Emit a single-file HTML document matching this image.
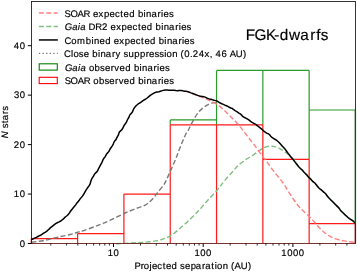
<!DOCTYPE html>
<html><head><meta charset="utf-8"><style>html,body{margin:0;padding:0;background:#fff;width:357px;height:272px;overflow:hidden}</style></head>
<body><svg width="357" height="272" viewBox="0 0 357 272" style="display:block;font-family:'Liberation Sans',sans-serif;filter:blur(0.35px)">
<rect width="357" height="272" fill="#fff"/>
<path d="M170.23 119.88H216.54M216.54 70.42H262.85M262.85 70.42H309.16M309.16 109.98H355.50M170.23 119.88V124.82M216.54 70.42V124.82M262.85 70.42V124.82M309.16 70.42V159.44M355.50 109.98V223.72" fill="none" stroke="#2a9a2a" stroke-width="1.2"/>
<path d="M31.30 238.56H77.61M77.61 233.61H123.92M123.92 194.05H170.23M170.23 124.82H216.54M216.54 124.82H262.85M262.85 159.44H309.16M309.16 223.72H355.50M31.30 238.56V243.50M77.61 233.61V243.50M123.92 194.05V243.50M170.23 124.82V243.50M216.54 124.82V243.50M262.85 124.82V243.50M309.16 159.44V243.50M355.50 223.72V243.50" fill="none" stroke="#ff1a1a" stroke-width="1.2"/>
<g fill="none" stroke-linejoin="round">
<path d="M31.50 242.30 C33.70 241.97 40.05 241.22 44.70 240.30 C49.35 239.38 55.13 237.77 59.40 236.80 C63.67 235.83 67.37 235.22 70.30 234.50 C73.23 233.78 74.75 233.15 77.00 232.50 C79.25 231.85 80.43 231.75 83.80 230.60 C87.17 229.45 92.83 227.30 97.20 225.60 C101.57 223.90 105.33 222.50 110.00 220.40 C114.67 218.30 120.57 215.10 125.20 213.00 C129.83 210.90 134.45 209.12 137.80 207.80 C141.15 206.48 143.27 206.13 145.30 205.10 C147.33 204.07 148.63 202.78 150.00 201.60 C151.37 200.42 152.25 199.47 153.50 198.00 C154.75 196.53 155.73 195.08 157.50 192.80 C159.27 190.52 162.27 187.20 164.10 184.30 C165.93 181.40 167.03 178.53 168.50 175.40 C169.97 172.27 171.57 168.57 172.90 165.50 C174.23 162.43 175.37 159.83 176.50 157.00 C177.63 154.17 178.18 152.25 179.70 148.50 C181.22 144.75 184.10 137.67 185.60 134.50 C187.10 131.33 187.60 131.53 188.70 129.50 C189.80 127.47 190.67 125.05 192.20 122.30 C193.73 119.55 196.03 115.45 197.90 113.00 C199.77 110.55 201.57 109.07 203.40 107.60 C205.23 106.13 207.32 104.98 208.90 104.20 C210.48 103.42 211.67 103.17 212.90 102.90 C214.13 102.63 215.73 102.65 216.30 102.60" stroke="#7a7a7a" stroke-width="1.4" stroke-dasharray="5.0 2.4"/>
<path d="M116.00 243.70 C118.33 243.60 125.67 243.32 130.00 243.10 C134.33 242.88 138.67 242.63 142.00 242.40 C145.33 242.17 147.68 241.95 150.00 241.70 C152.32 241.45 153.93 241.27 155.90 240.90 C157.87 240.53 160.08 240.00 161.80 239.50 C163.52 239.00 164.73 238.53 166.20 237.90 C167.67 237.27 169.13 236.58 170.60 235.70 C172.07 234.82 173.53 233.73 175.00 232.60 C176.47 231.47 177.93 230.17 179.40 228.90 C180.87 227.63 182.33 226.32 183.80 225.00 C185.27 223.68 186.73 222.37 188.20 221.00 C189.67 219.63 191.12 218.25 192.60 216.80 C194.08 215.35 195.87 213.55 197.10 212.30 C198.33 211.05 198.70 210.78 200.00 209.30 C201.30 207.82 203.27 205.27 204.90 203.40 C206.53 201.53 207.88 200.17 209.80 198.10 C211.72 196.03 214.62 193.02 216.40 191.00 C218.18 188.98 219.18 187.67 220.50 186.00 C221.82 184.33 222.37 183.30 224.30 181.00 C226.23 178.70 229.70 174.87 232.10 172.20 C234.50 169.53 236.32 167.17 238.70 165.00 C241.08 162.83 243.83 160.97 246.40 159.20 C248.97 157.43 251.72 156.00 254.10 154.40 C256.48 152.80 258.97 150.75 260.70 149.60 C262.43 148.45 263.00 148.08 264.50 147.50 C266.00 146.92 267.85 146.22 269.70 146.10 C271.55 145.98 273.72 146.25 275.60 146.80 C277.48 147.35 279.18 148.37 281.00 149.40 C282.82 150.43 284.75 151.70 286.50 153.00 C288.25 154.30 290.13 155.93 291.50 157.20 C292.87 158.47 293.77 159.40 294.70 160.60 C295.63 161.80 296.10 163.00 297.10 164.40 C298.10 165.80 299.48 167.62 300.70 169.00 C301.92 170.38 303.17 171.47 304.40 172.70 C305.63 173.93 306.87 175.10 308.10 176.40 C309.33 177.70 310.68 179.33 311.80 180.50 C312.92 181.67 313.42 182.05 314.80 183.40 C316.18 184.75 318.22 186.70 320.10 188.60 C321.98 190.50 324.08 192.68 326.10 194.80 C328.12 196.92 330.17 199.22 332.20 201.30 C334.23 203.38 336.83 205.77 338.30 207.30 C339.77 208.83 340.00 209.42 341.00 210.50 C342.00 211.58 343.07 212.58 344.30 213.80 C345.53 215.02 347.05 216.68 348.40 217.80 C349.75 218.92 351.22 219.60 352.40 220.50 C353.58 221.40 354.98 222.75 355.50 223.20" stroke="#80bf80" stroke-width="1.4" stroke-dasharray="5.0 2.4"/>
<path d="M185.00 91.10 C185.70 91.30 187.53 91.72 189.20 92.30 C190.87 92.88 193.47 94.00 195.00 94.60 C196.53 95.20 196.72 95.25 198.40 95.90 C200.08 96.55 203.23 97.73 205.10 98.50 C206.97 99.27 208.28 99.90 209.60 100.50 C210.92 101.10 211.70 101.43 213.00 102.10 C214.30 102.77 215.92 103.48 217.40 104.50 C218.88 105.52 220.55 107.03 221.90 108.20 C223.25 109.37 224.28 110.33 225.50 111.50 C226.72 112.67 227.98 113.98 229.20 115.20 C230.42 116.42 231.58 117.58 232.80 118.80 C234.02 120.02 235.15 121.03 236.50 122.50 C237.85 123.97 239.43 125.78 240.90 127.60 C242.37 129.42 243.83 131.47 245.30 133.40 C246.77 135.33 248.23 137.33 249.70 139.20 C251.17 141.07 252.47 142.43 254.10 144.60 C255.73 146.77 257.87 149.95 259.50 152.20 C261.13 154.45 262.68 156.50 263.90 158.10 C265.12 159.70 265.82 160.50 266.80 161.80 C267.78 163.10 268.82 164.55 269.80 165.90 C270.78 167.25 271.73 168.63 272.70 169.90 C273.67 171.17 274.62 172.28 275.60 173.50 C276.58 174.72 277.62 175.97 278.60 177.20 C279.58 178.43 280.52 179.60 281.50 180.90 C282.48 182.20 283.60 183.62 284.50 185.00 C285.40 186.38 286.00 187.73 286.90 189.20 C287.80 190.67 288.92 192.30 289.90 193.80 C290.88 195.30 291.82 196.73 292.80 198.20 C293.78 199.67 294.82 201.25 295.80 202.60 C296.78 203.95 297.73 205.18 298.70 206.30 C299.67 207.42 300.62 208.32 301.60 209.30 C302.58 210.28 303.62 211.28 304.60 212.20 C305.58 213.12 306.52 213.87 307.50 214.80 C308.48 215.73 309.43 216.68 310.50 217.80 C311.57 218.92 312.67 220.08 313.90 221.50 C315.13 222.92 316.58 224.85 317.90 226.30 C319.22 227.75 320.48 229.00 321.80 230.20 C323.12 231.40 324.48 232.50 325.80 233.50 C327.12 234.50 328.38 235.42 329.70 236.20 C331.02 236.98 332.17 237.60 333.70 238.20 C335.23 238.80 337.15 239.35 338.90 239.80 C340.65 240.25 342.43 240.58 344.20 240.90 C345.97 241.22 347.62 241.47 349.50 241.70 C351.38 241.93 354.50 242.20 355.50 242.30" stroke="#ff8080" stroke-width="1.4" stroke-dasharray="5.0 2.4"/>
<path d="M31.55 239.43 L33.23 238.78 L34.71 238.06 L36.37 237.35 L37.89 236.49 L39.47 235.69 L41.12 235.00 L42.60 233.97 L44.08 232.90 L45.49 232.11 L46.84 231.12 L48.09 229.98 L49.33 228.84 L50.55 227.66 L51.85 226.59 L53.15 225.57 L54.60 224.41 L56.08 223.39 L57.67 222.53 L59.19 221.84 L60.67 221.02 L62.17 219.99 L63.45 218.87 L64.58 217.66 L65.95 216.53 L67.25 215.53 L68.41 214.29 L69.46 212.83 L70.36 211.48 L71.45 210.06 L72.53 208.77 L73.49 207.39 L74.66 206.10 L75.73 204.88 L76.63 203.36 L77.88 201.89 L78.97 200.59 L79.99 199.08 L81.20 197.60 L82.45 196.11 L83.57 194.52 L84.56 192.72 L85.33 191.28 L86.18 189.90 L87.34 188.19 L88.37 186.73 L89.32 185.43 L90.12 183.97 L90.53 182.31 L91.04 180.63 L91.70 178.92 L92.65 177.35 L93.62 176.04 L94.30 174.55 L95.41 173.09 L96.83 171.88 L97.74 170.54 L98.35 169.01 L99.14 167.58 L100.03 165.99 L100.85 164.38 L101.72 162.88 L102.40 161.38 L102.97 159.82 L103.86 158.30 L105.03 156.90 L105.85 155.48 L106.61 153.93 L107.87 152.65 L109.01 151.20 L109.72 149.70 L110.58 148.25 L111.58 146.85 L112.64 145.31 L113.32 143.84 L113.99 142.20 L114.87 140.83 L115.97 139.63 L116.66 138.16 L117.44 136.66 L118.32 135.21 L118.80 133.45 L119.51 131.83 L120.84 130.65 L122.06 129.39 L122.92 127.99 L123.65 126.40 L124.49 124.82 L125.53 123.50 L126.50 122.07 L127.10 120.53 L127.91 118.94 L128.84 117.53 L129.37 116.00 L130.07 114.53 L131.34 113.39 L132.37 112.04 L133.04 110.35 L133.75 108.81 L134.65 107.43 L135.68 106.12 L136.96 105.03 L138.18 103.99 L139.54 103.09 L140.97 102.24 L142.32 101.12 L143.87 100.04 L145.48 99.26 L146.92 98.24 L148.27 97.06 L149.63 95.95 L151.01 94.83 L152.56 93.87 L154.05 93.06 L155.67 92.34 L157.34 92.00 L158.91 91.71 L160.47 91.18 L162.21 90.64 L163.89 90.24 L165.60 89.96 L167.22 89.99 L168.91 90.15 L170.64 90.22 L172.32 90.21 L174.07 90.27 L175.77 90.55 L177.51 90.66 L179.24 90.42 L181.06 90.41 L182.79 90.84 L184.37 91.14 L186.07 91.25 L187.79 91.64 L189.44 92.28 L191.09 92.90 L192.78 93.47 L194.43 94.13 L196.10 94.79 L197.76 95.40 L199.47 95.94 L201.17 96.27 L202.85 96.51 L204.50 96.87 L206.11 97.61 L207.53 98.40 L209.22 98.89 L210.93 99.21 L212.53 99.79 L214.10 100.30 L215.69 100.62 L217.32 101.21 L218.78 102.09 L220.22 103.03 L221.79 103.73 L223.37 104.36 L224.83 105.17 L226.35 105.80 L227.87 106.41 L229.28 107.28 L230.82 107.98 L232.38 108.57 L233.66 109.54 L234.98 110.63 L236.46 111.41 L237.91 112.38 L239.28 113.31 L240.74 114.19 L241.88 115.39 L243.00 116.66 L244.56 117.55 L246.22 118.32 L247.60 119.16 L249.12 120.20 L250.57 121.34 L252.06 122.45 L253.48 123.21 L254.94 123.94 L256.26 124.91 L257.53 125.93 L258.89 126.82 L260.15 127.86 L261.43 128.89 L262.70 129.96 L263.89 131.13 L265.20 132.17 L266.65 133.08 L268.33 133.77 L269.73 134.80 L270.72 136.28 L271.97 137.47 L273.41 138.38 L274.82 139.24 L276.38 140.19 L277.76 141.26 L279.06 142.47 L280.24 143.78 L281.39 145.14 L282.67 146.49 L283.84 147.77 L285.02 149.11 L286.10 150.52 L287.14 151.95 L288.16 153.40 L289.24 154.82 L290.34 156.20 L291.42 157.61 L292.59 158.93 L293.75 160.28 L294.81 161.70 L295.82 163.17 L296.94 164.53 L298.07 165.90 L299.17 167.29 L300.44 168.49 L301.73 169.51 L302.97 170.84 L304.05 172.32 L305.37 173.57 L306.74 174.77 L307.83 176.29 L308.90 177.56 L310.26 178.64 L311.39 179.85 L312.41 181.12 L313.68 182.19 L315.01 183.18 L316.31 184.65 L317.37 186.24 L318.62 187.80 L319.86 188.84 L321.26 189.77 L322.50 190.94 L323.76 192.16 L325.15 193.26 L326.32 194.59 L327.29 196.11 L328.46 197.47 L329.68 198.79 L330.90 200.10 L332.22 201.28 L333.47 202.58 L334.77 203.90 L336.08 205.15 L337.23 206.36 L338.44 207.59 L339.53 208.83 L340.41 210.20 L341.52 211.53 L342.92 212.73 L344.16 213.94 L345.36 215.11 L346.69 216.30 L347.97 217.48 L349.42 218.58 L350.84 219.53 L352.27 220.30 L353.58 221.30 L354.77 222.65 L355.33 223.38" stroke="#000" stroke-width="1.5"/>
</g>
<rect x="31.5" y="1.5" width="324.0" height="242.0" fill="none" stroke="#111" stroke-width="0.85"/>
<line x1="31.5" y1="243.5" x2="355.5" y2="243.5" stroke="#c03030" stroke-opacity="0.55" stroke-width="0.9"/>
<line x1="355.20" y1="109.98" x2="355.20" y2="223.72" stroke="#1d5e1d" stroke-width="1"/>
<line x1="355.20" y1="223.72" x2="355.20" y2="243.50" stroke="#6a1010" stroke-width="1"/>
<g stroke="#000" stroke-width="1"><line x1="27.8" y1="243.50" x2="31.5" y2="243.50"/><line x1="27.8" y1="194.05" x2="31.5" y2="194.05"/><line x1="27.8" y1="144.60" x2="31.5" y2="144.60"/><line x1="27.8" y1="95.15" x2="31.5" y2="95.15"/><line x1="27.8" y1="45.70" x2="31.5" y2="45.70"/><line x1="113.50" y1="243.5" x2="113.50" y2="247.0"/><line x1="203.20" y1="243.5" x2="203.20" y2="247.0"/><line x1="292.90" y1="243.5" x2="292.90" y2="247.0"/></g>
<g stroke="#000" stroke-width="0.8"><line x1="50.80" y1="243.5" x2="50.80" y2="245.6"/><line x1="66.60" y1="243.5" x2="66.60" y2="245.6"/><line x1="77.80" y1="243.5" x2="77.80" y2="245.6"/><line x1="86.50" y1="243.5" x2="86.50" y2="245.6"/><line x1="93.60" y1="243.5" x2="93.60" y2="245.6"/><line x1="99.61" y1="243.5" x2="99.61" y2="245.6"/><line x1="104.81" y1="243.5" x2="104.81" y2="245.6"/><line x1="109.40" y1="243.5" x2="109.40" y2="245.6"/><line x1="140.50" y1="243.5" x2="140.50" y2="245.6"/><line x1="156.30" y1="243.5" x2="156.30" y2="245.6"/><line x1="167.50" y1="243.5" x2="167.50" y2="245.6"/><line x1="176.20" y1="243.5" x2="176.20" y2="245.6"/><line x1="183.30" y1="243.5" x2="183.30" y2="245.6"/><line x1="189.31" y1="243.5" x2="189.31" y2="245.6"/><line x1="194.51" y1="243.5" x2="194.51" y2="245.6"/><line x1="199.10" y1="243.5" x2="199.10" y2="245.6"/><line x1="230.20" y1="243.5" x2="230.20" y2="245.6"/><line x1="246.00" y1="243.5" x2="246.00" y2="245.6"/><line x1="257.20" y1="243.5" x2="257.20" y2="245.6"/><line x1="265.90" y1="243.5" x2="265.90" y2="245.6"/><line x1="273.00" y1="243.5" x2="273.00" y2="245.6"/><line x1="279.01" y1="243.5" x2="279.01" y2="245.6"/><line x1="284.21" y1="243.5" x2="284.21" y2="245.6"/><line x1="288.80" y1="243.5" x2="288.80" y2="245.6"/><line x1="319.90" y1="243.5" x2="319.90" y2="245.6"/><line x1="335.70" y1="243.5" x2="335.70" y2="245.6"/><line x1="346.90" y1="243.5" x2="346.90" y2="245.6"/></g>
<g><line x1="38.9" y1="12.95" x2="57.8" y2="12.95" stroke="#ff8080" stroke-width="1.4" stroke-dasharray="5.0 2.4"/><line x1="38.9" y1="26.45" x2="57.8" y2="26.45" stroke="#80bf80" stroke-width="1.4" stroke-dasharray="5.0 2.4"/><line x1="38.9" y1="39.95" x2="57.8" y2="39.95" stroke="#000" stroke-width="1.5"/><line x1="38.9" y1="53.45" x2="57.8" y2="53.45" stroke="#777" stroke-width="1.3" stroke-dasharray="1.3 2.3"/><rect x="39.2" y="63.80" width="18.1" height="6.3" fill="none" stroke="#008000" stroke-width="1.1"/><rect x="39.2" y="77.30" width="18.1" height="6.3" fill="none" stroke="#ff0000" stroke-width="1.1"/></g>
<g fill="#000" stroke="#000" stroke-width="0.18" style="filter:grayscale(1)" text-rendering="geometricPrecision"><text id="y0" y="246.70" font-size="9.50"><tspan x="19.63">0</tspan></text><text id="y10" y="197.25" font-size="9.50"><tspan x="13.82 19.63">10</tspan></text><text id="y20" y="147.80" font-size="9.50"><tspan x="13.75 19.63">20</tspan></text><text id="y30" y="98.35" font-size="9.50"><tspan x="13.88 19.63">30</tspan></text><text id="y40" y="48.90" font-size="9.50"><tspan x="13.87 19.63">40</tspan></text><text id="x10" y="256.40" font-size="9.50"><tspan x="107.73 113.54">10</tspan></text><text id="x100" y="256.40" font-size="9.50"><tspan x="194.55 200.36 206.12">100</tspan></text><text id="x1000" y="256.40" font-size="9.50"><tspan x="281.37 287.18 292.94 298.70">1000</tspan></text><text id="xlab" y="268.90" font-size="9.50"><tspan x="134.61 140.65 143.85 149.39 151.94 157.35 162.75 166.03 171.61 177.18 180.10 184.93 190.63 195.87 202.08 205.14 211.33 214.65 217.09 222.74 228.23 231.05 234.56 240.71 247.88">Projected separation (AU)</tspan></text><text id="ylab" transform="translate(7.50 0) rotate(-90)" y="0" font-size="9.50"><tspan x="-138.14" font-style="italic">N</tspan><tspan x="-131.18 -128.25 -123.15 -120.25 -114.04 -110.72"> stars</tspan></text><text id="title" y="40.20" font-size="15.33"><tspan x="245.86 254.47 266.09 274.21 279.68 289.09 300.27 310.28 316.18 320.77">FGK-dwarfs</tspan></text><text id="leg1" y="16.65" font-size="9.50"><tspan x="64.52 70.38 77.40 83.52 89.95 92.99 98.52 103.88 109.50 114.91 120.31 123.59 129.17 134.74 137.91 143.57 146.12 151.41 157.61 161.09 163.56 169.01">SOAR expected binaries</tspan></text><text id="leg2" y="30.15" font-size="9.50"><tspan x="64.81 72.14 77.76 80.20" font-style="italic">Gaia</tspan><tspan x="85.67 88.61 95.37 101.92 107.56 110.60 116.13 121.49 127.11 132.52 137.92 141.20 146.78 152.35 155.51 161.18 163.73 169.01 175.22 178.69 181.16 186.62"> DR2 expected binaries</tspan></text><text id="leg3" y="43.65" font-size="9.50"><tspan x="64.44 71.21 77.09 85.72 91.39 93.94 99.59 105.17 110.74 113.78 119.31 124.67 130.29 135.70 141.10 144.38 149.96 155.53 158.70 164.36 166.91 172.19 178.40 181.88 184.35 189.80">Combined expected binaries</tspan></text><text id="leg4" y="57.15" font-size="9.50"><tspan x="64.12 70.97 73.41 78.86 83.69 89.10 92.26 97.93 100.48 105.76 111.97 115.54 120.59 123.52 128.39 134.21 139.95 145.86 149.09 154.55 159.26 164.14 166.57 172.23 177.72 180.54 184.36 190.00 192.87 198.75 204.56 209.66 212.51 215.62 221.38 226.90 229.70 235.85 243.02">Close binary suppression (0.24x, 46 AU)</tspan></text><text id="leg5" y="70.65" font-size="9.50"><tspan x="65.03 72.36 77.99 80.42" font-style="italic">Gaia</tspan><tspan x="85.89 88.90 94.59 100.10 104.93 110.79 114.36 119.57 125.16 130.72 133.89 139.55 142.11 147.39 153.59 157.07 159.54 164.99"> observed binaries</tspan></text><text id="leg6" y="84.15" font-size="9.50"><tspan x="64.75 70.61 77.63 83.75 90.18 93.19 98.88 104.39 109.22 115.08 118.65 123.86 129.44 135.01 138.18 143.84 146.39 151.68 157.88 161.36 163.83 169.28">SOAR observed binaries</tspan></text></g>
</svg></body></html>
